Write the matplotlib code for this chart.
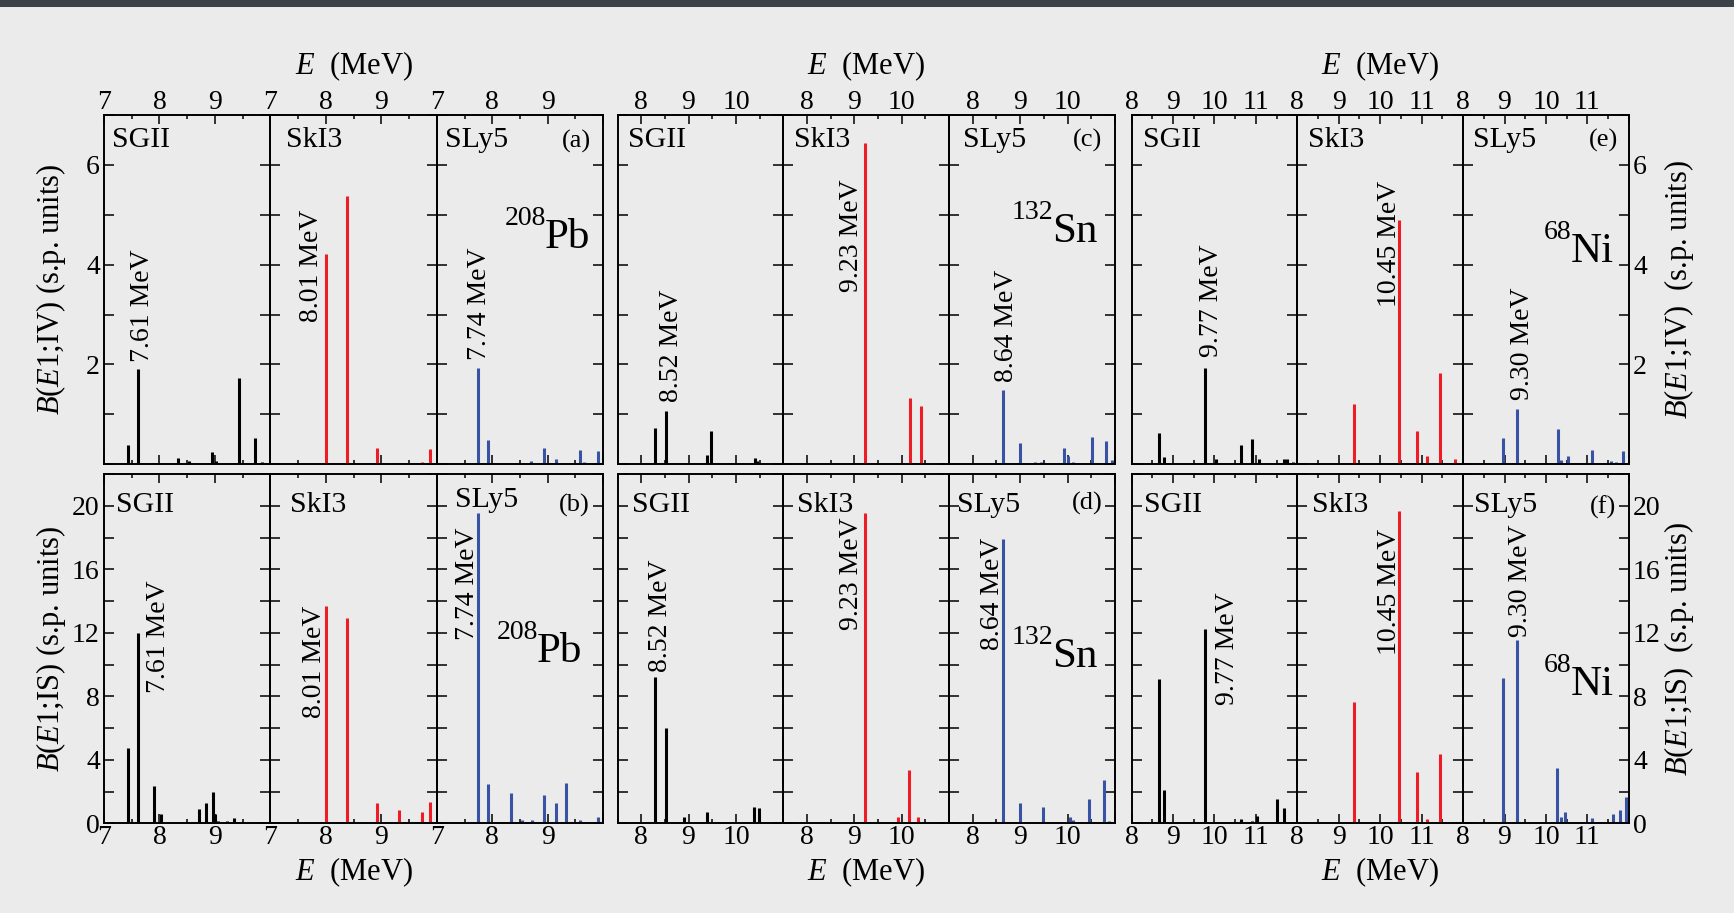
"""E1 strength distributions for 208Pb, 132Sn and 68Ni (SGII, SkI3, SLy5)."""
import matplotlib
matplotlib.use('Agg')
import matplotlib.pyplot as plt
from matplotlib.ticker import MultipleLocator, FuncFormatter
from matplotlib.patches import Rectangle

plt.rcParams['font.family'] = ['Liberation Serif', 'DejaVu Serif']
plt.rcParams['mathtext.fontset'] = 'custom'
plt.rcParams['mathtext.rm'] = 'Liberation Serif'
plt.rcParams['mathtext.it'] = 'Liberation Serif:italic'

# ---- data -----------------------------------------------------------------
models = ['SGII', 'SkI3', 'SLy5']
model_colors = ['#000000', '#ee1c25', '#3953a4']
nuclei = ['208Pb', '132Sn', '68Ni']
nucleus_mass = ['208', '132', '68']
nucleus_symbol = ['Pb', 'Sn', 'Ni']
energy_ranges = [(7, 10), (7.5, 11), (8, 12)]
panel_letters = [['(a)', '(b)'], ['(c)', '(d)'], ['(e)', '(f)']]
peak_energies = [[7.61, 8.01, 7.74], [8.52, 9.23, 8.64], [9.77, 10.45, 9.30]]

# 208Pb
pb_sgii_iv_e = [7.43, 7.61, 7.90, 8.33, 8.53, 8.94, 9.02, 9.34, 9.44, 9.73, 9.85]
pb_sgii_iv_b = [0.38, 1.91, 0.02, 0.13, 0.06, 0.24, 0.07, 0.03, 1.72, 0.53, 0.04]
pb_sgii_is_e = [7.44, 7.61, 7.90, 8.02, 8.35, 8.72, 8.83, 8.96, 9.00, 9.05, 9.22, 9.34, 9.42, 9.80, 9.86]
pb_sgii_is_b = [4.73, 11.96, 2.37, 0.61, 0.05, 0.92, 1.30, 1.97, 0.57, 0.15, 0.15, 0.36, 0.10, 0.08, 0.10]
pb_ski3_iv_e = [8.01, 8.38, 8.93, 9.32, 9.38, 9.73, 9.88]
pb_ski3_iv_b = [4.22, 5.38, 0.32, 0.02, 0.02, 0.05, 0.30]
pb_ski3_is_e = [8.01, 8.38, 8.93, 9.32, 9.41, 9.73, 9.88]
pb_ski3_is_b = [13.7, 12.9, 1.28, 0.84, 0.10, 0.74, 1.32]
pb_sly5_iv_e = [7.74, 7.92, 8.70, 8.94, 9.08, 9.15, 9.59, 9.65, 9.90]
pb_sly5_iv_b = [1.92, 0.49, 0.07, 0.33, 0.03, 0.11, 0.29, 0.05, 0.27]
pb_sly5_is_e = [7.74, 7.93, 8.33, 8.53, 8.71, 8.94, 9.08, 9.15, 9.33, 9.43, 9.59, 9.90]
pb_sly5_is_b = [19.56, 2.50, 1.89, 0.21, 0.21, 1.79, 0.05, 1.26, 2.52, 0.05, 0.21, 0.40]

# 132Sn
sn_sgii_iv_e = [8.29, 8.52, 9.39, 9.47, 10.41, 10.45, 10.50]
sn_sgii_iv_b = [0.72, 1.07, 0.19, 0.67, 0.12, 0.07, 0.03]
sn_sgii_is_e = [8.29, 8.52, 8.91, 9.02, 9.38, 10.39, 10.49]
sn_sgii_is_b = [9.19, 6.03, 0.38, 0.10, 0.69, 1.03, 0.95]
sn_ski3_iv_e = [9.23, 9.73, 9.95, 10.18, 10.40]
sn_ski3_iv_b = [6.44, 0.01, 0.03, 1.32, 1.17]
sn_ski3_is_e = [9.23, 9.92, 10.16, 10.35]
sn_ski3_is_b = [19.52, 0.42, 3.34, 0.42]
sn_sly5_iv_e = [8.64, 9.00, 9.31, 9.45, 9.93, 10.00, 10.12, 10.51, 10.82, 10.93]
sn_sly5_iv_b = [1.49, 0.43, 0.05, 0.05, 0.32, 0.17, 0.04, 0.55, 0.47, 0.09]
sn_sly5_is_e = [8.64, 8.99, 9.30, 9.48, 10.05, 10.12, 10.46, 10.77, 10.87]
sn_sly5_is_b = [17.88, 1.26, 0.10, 1.01, 0.38, 0.20, 1.55, 2.73, 0.13]

# 68Ni
ni_sgii_iv_e = [8.66, 8.78, 9.77, 10.05, 10.63, 10.91, 11.07, 11.69, 11.74, 11.90]
ni_sgii_iv_b = [0.62, 0.14, 1.92, 0.10, 0.39, 0.50, 0.10, 0.11, 0.11, 0.04]
ni_sgii_is_e = [8.67, 8.79, 9.77, 10.63, 10.91, 11.03, 11.50, 11.69]
ni_sgii_is_b = [9.11, 2.10, 12.26, 0.29, 0.15, 0.46, 1.51, 0.99]
ni_ski3_iv_e = [9.36, 10.45, 10.89, 11.13, 11.45, 11.80]
ni_ski3_iv_b = [1.21, 4.89, 0.67, 0.17, 1.82, 0.10]
ni_ski3_is_e = [9.36, 10.45, 10.89, 11.13, 11.45]
ni_ski3_is_b = [7.67, 19.67, 3.24, 0.25, 4.37]
ni_sly5_iv_e = [8.96, 9.30, 10.28, 10.37, 10.53, 10.70, 11.12, 11.56, 11.68, 11.85]
ni_sly5_iv_b = [0.53, 1.10, 0.71, 0.09, 0.17, 0.02, 0.29, 0.07, 0.05, 0.27]
ni_sly5_is_e = [8.96, 9.30, 10.27, 10.35, 10.47, 11.10, 11.61, 11.79, 11.93]
ni_sly5_is_b = [9.17, 11.54, 3.51, 0.38, 0.71, 0.36, 0.57, 0.84, 1.68]

strength = {
    ('208Pb', 'SGII', 'IV'): (pb_sgii_iv_e, pb_sgii_iv_b),
    ('208Pb', 'SGII', 'IS'): (pb_sgii_is_e, pb_sgii_is_b),
    ('208Pb', 'SkI3', 'IV'): (pb_ski3_iv_e, pb_ski3_iv_b),
    ('208Pb', 'SkI3', 'IS'): (pb_ski3_is_e, pb_ski3_is_b),
    ('208Pb', 'SLy5', 'IV'): (pb_sly5_iv_e, pb_sly5_iv_b),
    ('208Pb', 'SLy5', 'IS'): (pb_sly5_is_e, pb_sly5_is_b),
    ('132Sn', 'SGII', 'IV'): (sn_sgii_iv_e, sn_sgii_iv_b),
    ('132Sn', 'SGII', 'IS'): (sn_sgii_is_e, sn_sgii_is_b),
    ('132Sn', 'SkI3', 'IV'): (sn_ski3_iv_e, sn_ski3_iv_b),
    ('132Sn', 'SkI3', 'IS'): (sn_ski3_is_e, sn_ski3_is_b),
    ('132Sn', 'SLy5', 'IV'): (sn_sly5_iv_e, sn_sly5_iv_b),
    ('132Sn', 'SLy5', 'IS'): (sn_sly5_is_e, sn_sly5_is_b),
    ('68Ni', 'SGII', 'IV'): (ni_sgii_iv_e, ni_sgii_iv_b),
    ('68Ni', 'SGII', 'IS'): (ni_sgii_is_e, ni_sgii_is_b),
    ('68Ni', 'SkI3', 'IV'): (ni_ski3_iv_e, ni_ski3_iv_b),
    ('68Ni', 'SkI3', 'IS'): (ni_ski3_is_e, ni_ski3_is_b),
    ('68Ni', 'SLy5', 'IV'): (ni_sly5_iv_e, ni_sly5_iv_b),
    ('68Ni', 'SLy5', 'IS'): (ni_sly5_is_e, ni_sly5_is_b),
}

# ---- layout (pixels of a 1734x913 canvas) -----------------------------------
W, H = 1734, 913
group_left = [104, 617.5, 1131.5]
panel_w = [166.4, 165.8, 165.8]
row_top = [115, 474]
row_h = 349.3
rows = ['IV', 'IS']
ylims = [(0, 7, 2, 1), (0, 22, 4, 2)]

# model-name x offsets (px) per [row][group][model]
name_dx = [[[8, 16, 8], [10, 10.5, 14], [11.5, 10.5, 10]],
           [[12, 19.5, 18], [15, 14, 8], [12.5, 15, 11]]]
name_y = [[[0.907] * 3] * 3,
          [[0.891, 0.891, 0.905], [0.891] * 3, [0.891] * 3]]
letter_dx = [[11.8, 13.5], [12.5, 12.5], [11, 13]]
letter_y = [[0.906, 0.892], [0.909, 0.897], [0.909, 0.887]]
nucleus_pos = [[(0.922, 0.619), (0.874, 0.462)],
               [(0.898, 0.636), (0.898, 0.447)],
               [(0.909, 0.579), (0.909, 0.367)]]
# peak label (x, y) in axes fraction per [group][row][model]
peak_pos = [[[(0.204, 0.293), (0.222, 0.408), (0.227, 0.299)],
             [(0.300, 0.372), (0.238, 0.301), (0.155, 0.525)]],
            [[(0.299, 0.179), (0.384, 0.494), (0.319, 0.236)],
             [(0.232, 0.434), (0.384, 0.553), (0.237, 0.496)]],
            [[(0.455, 0.308), (0.529, 0.451), (0.331, 0.184)],
             [(0.552, 0.339), (0.529, 0.482), (0.322, 0.534)]]]
peak_dx = 4.5  # px nudge to the right

fig = plt.figure(figsize=(W / 100, H / 100), dpi=100, facecolor='#ebebeb')
fig.add_artist(Rectangle((0, 1 - 7 / H), 1, 7 / H, transform=fig.transFigure,
                         facecolor='#3d4149', edgecolor='none'))

tick_fs = 20
for g, nuc in enumerate(nuclei):
    lo, hi = energy_ranges[g]
    for r, chan in enumerate(rows):
        ymin, ymax, ymaj, ymin_step = ylims[r]
        for m, model in enumerate(models):
            left = group_left[g] + m * panel_w[g]
            ax = fig.add_axes([left / W, 1 - (row_top[r] + row_h) / H,
                               panel_w[g] / W, row_h / H])
            ax.set_facecolor('none')
            E, B = strength[(nuc, model, chan)]
            ax.vlines(E, 0, B, colors=model_colors[m], linewidth=2.2, zorder=2)

            ax.set_xlim(lo, hi)
            ax.set_ylim(ymin, ymax)
            ax.xaxis.set_major_locator(MultipleLocator(1))
            ax.xaxis.set_minor_locator(MultipleLocator(0.5))
            ax.yaxis.set_major_locator(MultipleLocator(ymaj))
            ax.yaxis.set_minor_locator(MultipleLocator(ymin_step))
            ax.xaxis.set_major_formatter(FuncFormatter(
                lambda v, p, hi=hi: '' if abs(v - hi) < 1e-6 else f'{v:g}'))
            ax.yaxis.set_major_formatter(FuncFormatter(
                lambda v, p, r=r: '' if (r == 0 and v == 0) else f'{v:g}'))
            for s in ax.spines.values():
                s.set_linewidth(1.4)
            ax.tick_params(which='both', direction='in', top=True, bottom=True,
                           left=True, right=True, width=1.1, labelsize=tick_fs,
                           labeltop=(r == 0), labelbottom=(r == 1),
                           labelleft=(g == 0 and m == 0),
                           labelright=(g == 2 and m == 2))
            ax.tick_params(axis='x', which='major', length=6.5, pad=1 if r == 1 else 0)
            ax.tick_params(axis='x', which='minor', length=3.2)
            ax.tick_params(axis='y', which='both', length=7.5, pad=3)

            ax.text(name_dx[r][g][m] / panel_w[g], name_y[r][g][m], model,
                    transform=ax.transAxes, ha='left', va='baseline', fontsize=21.5)
            px, py = peak_pos[g][r][m]
            ax.text(px + peak_dx / panel_w[g], py, f'{peak_energies[g][m]:.2f} MeV',
                    transform=ax.transAxes, rotation=90, ha='center', va='bottom',
                    fontsize=20)
            if m == 2:
                ax.text(1 - letter_dx[g][r] / panel_w[g], letter_y[g][r],
                        panel_letters[g][r], transform=ax.transAxes,
                        ha='right', va='baseline', fontsize=19)
                nx, ny = nucleus_pos[g][r]
                sym = ax.text(nx, ny, nucleus_symbol[g], transform=ax.transAxes,
                              ha='right', va='baseline', fontsize=31)
                ax.annotate(nucleus_mass[g], xy=(0, 0), xycoords=sym,
                            xytext=(1, 32), textcoords='offset pixels',
                            ha='right', va='baseline', fontsize=20)

    # energy axis titles above and below each nucleus block
    cx = (group_left[g] + 1.5 * panel_w[g]) / W
    fig.text(cx, 1 - 74 / H, r'$E$  (MeV)', ha='center', va='baseline', fontsize=22)
    fig.text(cx, 1 - 880 / H, r'$E$  (MeV)', ha='center', va='baseline', fontsize=22)

fig.text(51 / W, 1 - 289.7 / H, r'$B$($E$1;IV) (s.p. units)', rotation=90,
         ha='center', va='center', fontsize=22)
fig.text(51 / W, 1 - 648.7 / H, r'$B$($E$1;IS) (s.p. units)', rotation=90,
         ha='center', va='center', fontsize=22)
fig.text(1679 / W, 1 - 289.7 / H, r'$B$($E$1;IV)  (s.p. units)', rotation=90,
         ha='center', va='center', fontsize=22)
fig.text(1679 / W, 1 - 648.7 / H, r'$B$($E$1;IS)  (s.p. units)', rotation=90,
         ha='center', va='center', fontsize=22)

fig.savefig('out.png', dpi=100, facecolor=fig.get_facecolor())
